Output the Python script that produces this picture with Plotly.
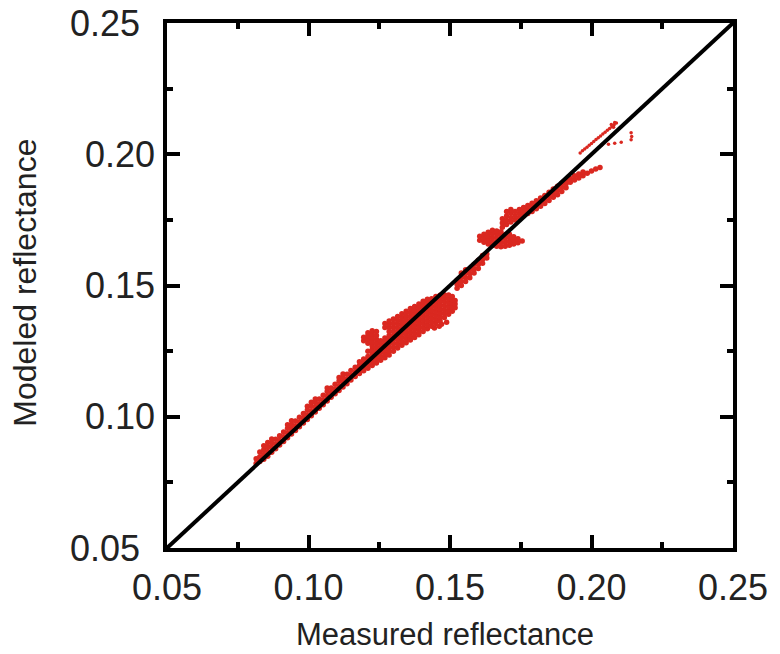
import plotly.graph_objects as go

# ---------------- data (measured, modeled reflectance) ----------------
tick_vals = [0.05, 0.10, 0.15, 0.20, 0.25]
tick_text = ["0.05", "0.10", "0.15", "0.20", "0.25"]
minor_vals = [0.075, 0.125, 0.175, 0.225]
x_title = "Measured reflectance"
y_title = "Modeled reflectance"

# lower stripe along the 1:1 line (measured value -> modeled values)
stripe_cols = {
    0.0815: [0.0822, 0.0840],
    0.0828: [0.0830, 0.0848, 0.0866],
    0.0842: [0.0838, 0.0856, 0.0874, 0.0890],
    0.0856: [0.0850, 0.0868, 0.0886, 0.0902],
    0.0870: [0.0865, 0.0883, 0.0900, 0.0915],
    0.0884: [0.0878, 0.0896, 0.0914],
    0.0898: [0.0892, 0.0910, 0.0928],
    0.0912: [0.0906, 0.0924, 0.0942],
    0.0926: [0.0920, 0.0938, 0.0956, 0.0970],
    0.0940: [0.0934, 0.0952, 0.0970, 0.0985],
    0.0954: [0.0948, 0.0966, 0.0984],
    0.0968: [0.0962, 0.0980, 0.0998],
    0.0982: [0.0976, 0.0994, 0.1012],
    0.0996: [0.0990, 0.1008, 0.1026, 0.1040],
    0.1010: [0.1004, 0.1022, 0.1040, 0.1055],
    0.1024: [0.1018, 0.1036, 0.1054, 0.1068],
    0.1038: [0.1032, 0.1050, 0.1068],
    0.1052: [0.1046, 0.1064, 0.1082],
    0.1066: [0.1060, 0.1078, 0.1096, 0.1110],
    0.1080: [0.1074, 0.1092, 0.1110],
    0.1094: [0.1088, 0.1106, 0.1124],
    0.1108: [0.1100, 0.1118, 0.1136, 0.1150],
    0.1122: [0.1113, 0.1131, 0.1149, 0.1163],
    0.1136: [0.1126, 0.1144, 0.1162],
    0.1150: [0.1140, 0.1158, 0.1176],
    0.1165: [0.1153, 0.1171, 0.1189],
}

# main blob around 0.12-0.15 (hook at its upper-left)
blob_cols = {
    0.1180: [0.1165, 0.1180, 0.1195, 0.1210],
    0.1195: [0.1175, 0.1190, 0.1205, 0.1220, 0.1290, 0.1303],
    0.1210: [0.1185, 0.1200, 0.1215, 0.1230, 0.1250, 0.1280, 0.1295, 0.1310, 0.1320],
    0.1225: [0.1195, 0.1210, 0.1225, 0.1240, 0.1255, 0.1270, 0.1285, 0.1300, 0.1315, 0.1328],
    0.1240: [0.1205, 0.1220, 0.1235, 0.1250, 0.1265, 0.1280, 0.1295, 0.1310, 0.1325],
    0.1255: [0.1215, 0.1230, 0.1245, 0.1260, 0.1275, 0.1290],
    0.1270: [0.1225, 0.1240, 0.1255, 0.1270, 0.1285, 0.1300, 0.1340, 0.1355],
    0.1285: [0.1235, 0.1250, 0.1265, 0.1280, 0.1295, 0.1310, 0.1325, 0.1340, 0.1352, 0.1365],
    0.1300: [0.1250, 0.1265, 0.1280, 0.1295, 0.1310, 0.1325, 0.1340, 0.1355, 0.1372],
    0.1315: [0.1262, 0.1277, 0.1292, 0.1307, 0.1322, 0.1337, 0.1352, 0.1367, 0.1382],
    0.1330: [0.1272, 0.1287, 0.1302, 0.1317, 0.1332, 0.1347, 0.1362, 0.1377, 0.1392],
    0.1345: [0.1282, 0.1297, 0.1312, 0.1327, 0.1342, 0.1357, 0.1372, 0.1387, 0.1402],
    0.1360: [0.1292, 0.1307, 0.1322, 0.1337, 0.1352, 0.1367, 0.1382, 0.1397, 0.1412],
    0.1375: [0.1302, 0.1317, 0.1332, 0.1347, 0.1362, 0.1377, 0.1392, 0.1407, 0.1420],
    0.1390: [0.1312, 0.1327, 0.1342, 0.1357, 0.1372, 0.1387, 0.1402, 0.1417, 0.1430],
    0.1405: [0.1325, 0.1340, 0.1355, 0.1370, 0.1385, 0.1400, 0.1415, 0.1430, 0.1440],
    0.1420: [0.1335, 0.1350, 0.1365, 0.1380, 0.1395, 0.1410, 0.1425, 0.1440, 0.1448],
    0.1435: [0.1345, 0.1360, 0.1375, 0.1390, 0.1405, 0.1420, 0.1435, 0.1450],
    0.1450: [0.1355, 0.1370, 0.1385, 0.1400, 0.1415, 0.1430, 0.1445, 0.1458],
    0.1465: [0.1365, 0.1380, 0.1395, 0.1410, 0.1425, 0.1440, 0.1455, 0.1463],
    0.1480: [0.1378, 0.1393, 0.1408, 0.1423, 0.1438, 0.1452, 0.1465],
    0.1495: [0.1390, 0.1405, 0.1420, 0.1435, 0.1450, 0.1464],
    0.1508: [0.1402, 0.1417, 0.1432, 0.1447, 0.1458],
    0.1518: [0.1415, 0.1430, 0.1443],
}
blob_extra = [(0.1462, 0.1345), (0.1488, 0.1360), (0.1445, 0.1338), (0.1470, 0.1352)]

# points along the line between 0.152 and 0.163
mid_cols = {
    0.1525: [0.1490, 0.1505, 0.1520],
    0.1540: [0.1500, 0.1515, 0.1532, 0.1548],
    0.1555: [0.1515, 0.1530, 0.1546, 0.1560],
    0.1570: [0.1530, 0.1545, 0.1560],
    0.1585: [0.1548, 0.1563, 0.1580],
    0.1600: [0.1565, 0.1580, 0.1596],
    0.1615: [0.1585, 0.1600, 0.1614],
    0.1630: [0.1605, 0.1620],
}

# second blob around 0.16-0.176
blob2_cols = {
    0.1605: [0.1672, 0.1688],
    0.1620: [0.1665, 0.1680, 0.1695],
    0.1635: [0.1658, 0.1673, 0.1688, 0.1703],
    0.1650: [0.1652, 0.1667, 0.1682, 0.1697, 0.1710],
    0.1665: [0.1650, 0.1665, 0.1680, 0.1695, 0.1708],
    0.1680: [0.1648, 0.1663, 0.1678, 0.1693, 0.1705],
    0.1695: [0.1650, 0.1665, 0.1680, 0.1694],
    0.1710: [0.1653, 0.1668, 0.1683, 0.1695],
    0.1725: [0.1658, 0.1672, 0.1686],
    0.1740: [0.1663, 0.1678],
    0.1755: [0.1670],
}

# upper band 0.168-0.203
upper_cols = {
    0.1685: [0.1722, 0.1738, 0.1754],
    0.1700: [0.1732, 0.1748, 0.1765, 0.1782],
    0.1715: [0.1742, 0.1758, 0.1775, 0.1790],
    0.1730: [0.1750, 0.1766, 0.1782],
    0.1745: [0.1758, 0.1774, 0.1790],
    0.1760: [0.1766, 0.1782, 0.1797],
    0.1775: [0.1774, 0.1790, 0.1805],
    0.1790: [0.1782, 0.1798, 0.1813],
    0.1805: [0.1792, 0.1808, 0.1823],
    0.1820: [0.1802, 0.1818, 0.1833],
    0.1835: [0.1812, 0.1828, 0.1843],
    0.1850: [0.1824, 0.1840, 0.1855],
    0.1865: [0.1836, 0.1852, 0.1868],
    0.1880: [0.1846, 0.1862, 0.1878],
    0.1895: [0.1858, 0.1874, 0.1890],
    0.1910: [0.1872, 0.1888, 0.1903],
    0.1925: [0.1893, 0.1908],
    0.1940: [0.1902, 0.1918],
    0.1955: [0.1910, 0.1925],
    0.1970: [0.1918, 0.1932],
    0.1985: [0.1928],
    0.2000: [0.1936],
    0.2015: [0.1944],
    0.2030: [0.1950],
}

# thin top streak and isolated dots
streak_x = [0.1960, 0.1968, 0.1976, 0.1984, 0.1992, 0.2000, 0.2008, 0.2016, 0.2024, 0.2032,
            0.2040, 0.2048, 0.2056, 0.2064, 0.2072, 0.2080, 0.2088, 0.2070, 0.2082, 0.2078]
streak_y = [0.2005, 0.2013, 0.2020, 0.2027, 0.2034, 0.2041, 0.2049, 0.2056, 0.2063, 0.2070,
            0.2077, 0.2084, 0.2091, 0.2098, 0.2105, 0.2112, 0.2119, 0.2113, 0.2121, 0.2103]
dots_x = [0.2036, 0.2060, 0.2082, 0.2105, 0.2140, 0.2142, 0.2140]
dots_y = [0.2035, 0.2038, 0.2042, 0.2046, 0.2082, 0.2068, 0.2055]

diag_x = [0.05, 0.25]
diag_y = [0.05, 0.25]

# ---------------- assemble ----------------
def cols_to_xy(cols):
    xs, ys = [], []
    for cx, yl in cols.items():
        for cy in yl:
            xs.append(cx)
            ys.append(cy)
    return xs, ys

cloud_x = [p[0] for p in blob_extra]
cloud_y = [p[1] for p in blob_extra]
for cols in (stripe_cols, blob_cols, mid_cols, blob2_cols, upper_cols):
    a, b = cols_to_xy(cols)
    cloud_x += a
    cloud_y += b

RED = "rgb(218,40,32)"
FONT = "Liberation Sans, Arial, Helvetica, sans-serif"
TXT = "#222"

fig = go.Figure()
fig.add_trace(go.Scatter(x=cloud_x, y=cloud_y, mode="markers",
                         marker=dict(size=5.5, color=RED, line=dict(width=0)),
                         hoverinfo="skip", showlegend=False))
fig.add_trace(go.Scatter(x=streak_x + dots_x, y=streak_y + dots_y, mode="markers",
                         marker=dict(size=3.5, color=RED, line=dict(width=0)),
                         hoverinfo="skip", showlegend=False))
fig.add_trace(go.Scatter(x=diag_x, y=diag_y, mode="lines",
                         line=dict(color="black", width=4),
                         hoverinfo="skip", showlegend=False))

axis_common = dict(
    range=[0.05, 0.25], tickmode="array", tickvals=tick_vals, ticktext=tick_text,
    ticks="inside", ticklen=13, tickwidth=4, tickcolor="black",
    showline=True, linewidth=4, linecolor="black", mirror="ticks",
    showgrid=False, zeroline=False,
    tickfont=dict(family=FONT, size=36, color=TXT),
    minor=dict(ticks="inside", ticklen=6, tickwidth=4, tickcolor="black",
               tickvals=minor_vals, showgrid=False),
)

# y tick labels placed individually (outer labels sit further left in the original)
ylab_right = {0.05: -0.0436, 0.10: -0.0185, 0.15: -0.0185, 0.20: -0.0185, 0.25: -0.0436}
annotations = [
    dict(text=t, xref="paper", yref="y", x=ylab_right[v], y=v,
         xanchor="right", yanchor="middle", showarrow=False,
         font=dict(family=FONT, size=36, color=TXT))
    for v, t in zip(tick_vals, tick_text)
]
annotations += [
    dict(text=x_title, xref="paper", yref="paper", x=0.4904, y=-0.1657,
         xanchor="center", yanchor="middle", showarrow=False,
         font=dict(family=FONT, size=31, color=TXT)),
    dict(text=y_title, xref="paper", yref="paper", x=-0.2513, y=0.5048,
         xanchor="center", yanchor="middle", textangle=-90, showarrow=False,
         font=dict(family=FONT, size=32, color=TXT)),
]

fig.update_layout(
    width=780, height=654,
    margin=dict(l=167, r=40, t=23, b=106),
    plot_bgcolor="white", paper_bgcolor="white",
    xaxis=dict(**axis_common, ticklabelstandoff=5),
    yaxis=dict(**axis_common, showticklabels=False),
    annotations=annotations,
)

fig.write_html("out.html")
